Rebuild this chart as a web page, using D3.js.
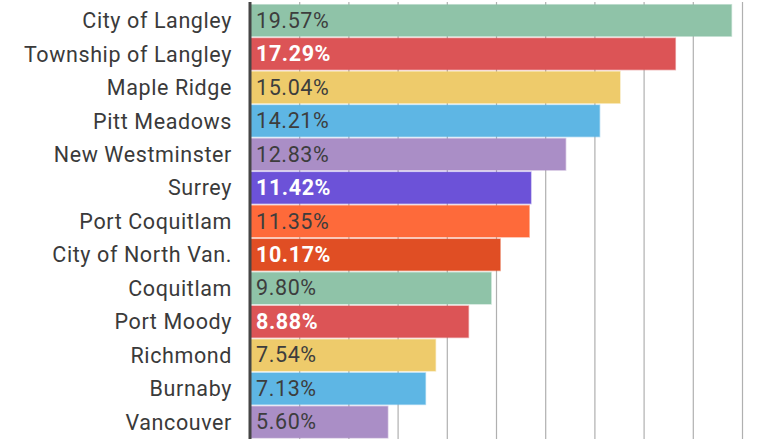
<!DOCTYPE html>
<html>
<head>
<meta charset="utf-8">
<script src="https://cdn.jsdelivr.net/npm/d3@7"></script>
<style>
  html, body { margin: 0; padding: 0; background: #fff; }
  svg { display: block; font-family: Roboto, "Noto Sans", sans-serif; }
</style>
</head>
<body>
<svg id="chart" width="780" height="439"></svg>
<script>
const categories = ["City of Langley", "Township of Langley", "Maple Ridge", "Pitt Meadows",
  "New Westminster", "Surrey", "Port Coquitlam", "City of North Van.", "Coquitlam",
  "Port Moody", "Richmond", "Burnaby", "Vancouver"];
const values = [19.57, 17.29, 15.04, 14.21, 12.83, 11.42, 11.35, 10.17, 9.80, 8.88, 7.54, 7.13, 5.60];
const colors = ["#8fc3a8", "#dc5456", "#eecb6b", "#5eb6e4", "#aa8ec6", "#6c52d8", "#fe6a3a",
  "#e04e24", "#8fc3a8", "#dc5456", "#eecb6b", "#5eb6e4", "#aa8ec6"];
const lightLabel = [false, true, false, false, false, true, false, true, false, true, false, false, false];
const tickValues = [2, 4, 6, 8, 10, 12, 14, 16, 18, 20];

const svg = d3.select("#chart");
const W = 780, H = 439;

const x = d3.scaleLinear().domain([0, 20]).range([250, 742]);
const y = d3.scaleBand().domain(categories)
  .range([3.05, 3.05 + 13 * 33.5]).paddingInner(0.09).paddingOuter(0.05);

// gridlines
const grid = svg.append("g").attr("transform", `translate(0,${H})`)
  .call(d3.axisTop(x).tickValues(tickValues).tickSize(H - 2).tickFormat(""));
grid.select(".domain").remove();
grid.selectAll(".tick line").attr("stroke", "#b0b0b0").attr("stroke-width", 1.2);

// bars
svg.append("g").selectAll("rect").data(values).join("rect")
  .attr("x", x(0))
  .attr("y", (d, i) => y(categories[i]))
  .attr("width", d => x(d) - x(0))
  .attr("height", y.bandwidth() + 1)
  .attr("fill", (d, i) => colors[i])
  .attr("stroke", (d, i) => colors[i])
  .attr("stroke-opacity", 0.45)
  .attr("stroke-width", 1.5);

// value labels
svg.append("g").selectAll("text").data(values).join("text")
  .attr("x", x(0) + 6)
  .attr("y", (d, i) => y(categories[i]) + y.bandwidth() / 2)
  .attr("dy", "0.36em")
  .attr("font-size", 21.5)
  .attr("letter-spacing", "0.6px")
  .attr("font-weight", (d, i) => lightLabel[i] ? 700 : 400)
  .attr("fill", (d, i) => lightLabel[i] ? "#ffffff" : "#3d3d3d")
  .text(d => d.toFixed(2) + "%");

// category labels
const yAxis = svg.append("g").attr("transform", `translate(${x(0)},0)`)
  .call(d3.axisLeft(y).tickSize(0).tickPadding(18));
yAxis.select(".domain").remove();
yAxis.selectAll(".tick text")
  .attr("font-family", "Roboto, 'Noto Sans', sans-serif")
  .attr("font-size", 21.5)
  .attr("letter-spacing", "0.6px")
  .attr("fill", "#3a3a3a")
  .attr("dy", "0.38em");

// axis line
svg.append("line")
  .attr("x1", x(0)).attr("x2", x(0))
  .attr("y1", 2).attr("y2", H)
  .attr("stroke", "#454545").attr("stroke-width", 3);
</script>
</body>
</html>
